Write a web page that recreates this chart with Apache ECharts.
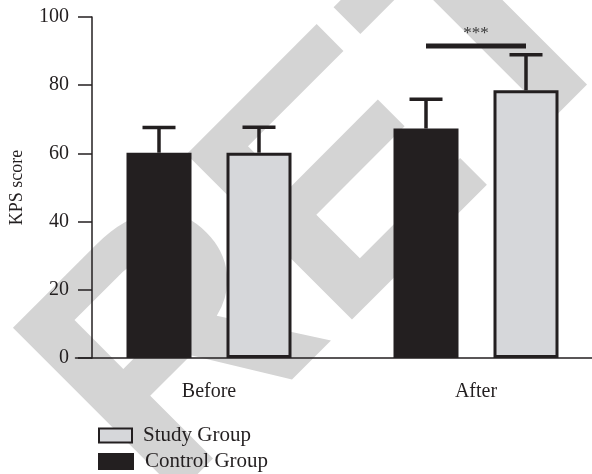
<!DOCTYPE html>
<html>
<head>
<meta charset="utf-8">
<script src="https://cdn.jsdelivr.net/npm/echarts@6/dist/echarts.min.js"></script>
<style>
  html, body { margin: 0; padding: 0; background: #ffffff; overflow: hidden; }
  /* the canvas runs past the right edge so the x axis continues off-page */
  #chart { width: 640px; height: 474px; }
</style>
</head>
<body>
<div id="chart"></div>
<script>
// KPS score by group, before and after treatment (mean ± SD)
const categories = ['Before', 'After'];
const controlMean = [60.2, 67.3];
const controlSD = [7.4, 8.6];
const studyMean = [60.2, 78.5];
const studySD = [7.5, 10.4];
const yTicks = [0, 20, 40, 60, 80, 100];
const sigCategory = 'After';
const sigLevel = [91.5];
const sigText = '***';
const watermarkText = 'RETRACTED';

const INK = '#231f20';
const SERIF = '"Liberation Serif", "DejaVu Serif", serif';
const BAR_W = 65;
const BAR_GAP = 35;                       // px between the two bars of a category
const HALF_STEP = (BAR_W + BAR_GAP) / 2;  // bar centre offset from category centre
const CAP_HALF = 16.5;

function errorBars(values, sds, offset) {
  return {
    type: 'custom',
    z: 3,
    silent: true,
    data: values.map((v, i) => [i, v, sds[i]]),
    renderItem: function (params, api) {
      const i = api.value(0);
      const mean = api.value(1);
      const sd = api.value(2);
      const base = api.coord([i, mean]);
      const top = api.coord([i, mean + sd]);
      const x = base[0] + offset;
      return {
        type: 'group',
        children: [
          { type: 'line', shape: { x1: x, y1: base[1], x2: x, y2: top[1] },
            style: { stroke: INK, lineWidth: 3.5 } },
          { type: 'line', shape: { x1: x - CAP_HALF, y1: top[1], x2: x + CAP_HALF, y2: top[1] },
            style: { stroke: INK, lineWidth: 3.5 } }
        ]
      };
    }
  };
}

const legendText = { fontFamily: SERIF, fontSize: 21, color: INK, padding: [0, 0, 0, 6] };

const chart = echarts.init(document.getElementById('chart'), null, { renderer: 'canvas' });

chart.setOption({
  animation: false,
  backgroundColor: '#ffffff',
  // large diagonal watermark running across the page behind the plot
  graphic: [{
    type: 'text',
    z: -10,
    silent: true,
    x: 96,
    y: 443,
    rotation: Math.PI / 4,
    style: {
      text: watermarkText,
      font: 'bold 340px "Liberation Sans", Arial, sans-serif',
      fill: '#d4d4d4',
      textAlign: 'left',
      textVerticalAlign: 'middle'
    }
  }],
  grid: { left: 75.5, top: 17, width: 534, height: 341, containLabel: false },
  legend: [
    {
      left: 93, top: 420,
      icon: 'rect',
      itemWidth: 33, itemHeight: 14,
      data: ['Study Group'],
      textStyle: legendText,
      selectedMode: false
    },
    {
      left: 93, top: 446,
      icon: 'rect',
      itemWidth: 36, itemHeight: 17,
      data: ['Control Group'],
      textStyle: legendText,
      selectedMode: false
    }
  ],
  xAxis: {
    type: 'category',
    data: categories,
    axisLine: { lineStyle: { color: INK, width: 1.5 } },
    axisTick: { alignWithLabel: true, length: 14, lineStyle: { color: INK, width: 1.5 } },
    axisLabel: { fontFamily: SERIF, fontSize: 20, color: INK, margin: 24 }
  },
  yAxis: {
    type: 'value',
    offset: -16.5,
    min: yTicks[0],
    max: yTicks[yTicks.length - 1],
    interval: yTicks[1] - yTicks[0],
    name: 'KPS score',
    nameLocation: 'middle',
    nameRotate: 90,
    nameGap: 66,
    nameTextStyle: { fontFamily: SERIF, fontSize: 18, color: INK },
    axisLine: { show: true, lineStyle: { color: INK, width: 1.5 } },
    axisTick: { show: true, length: 14, lineStyle: { color: INK, width: 1.5 } },
    axisLabel: { fontFamily: SERIF, fontSize: 20, color: INK, margin: 23 },
    splitLine: { show: false }
  },
  series: [
    {
      name: 'Control Group',
      type: 'bar',
      data: controlMean,
      barWidth: BAR_W,
      barGap: (BAR_GAP / BAR_W * 100) + '%',
      itemStyle: { color: INK }
    },
    {
      name: 'Study Group',
      type: 'bar',
      data: studyMean,
      barWidth: BAR_W,
      itemStyle: { color: '#d6d7da', borderColor: INK, borderWidth: 3 }
    },
    errorBars(controlMean, controlSD, -HALF_STEP),
    errorBars(studyMean, studySD, HALF_STEP),
    {
      type: 'custom',
      z: 3,
      silent: true,
      data: sigLevel.map(v => [categories.indexOf(sigCategory), v]),
      renderItem: function (params, api) {
        const p = api.coord([api.value(0), api.value(1)]);
        return {
          type: 'group',
          children: [
            { type: 'line', shape: { x1: p[0] - HALF_STEP, y1: p[1], x2: p[0] + HALF_STEP, y2: p[1] },
              style: { stroke: INK, lineWidth: 5 } },
            { type: 'text', x: p[0], y: p[1] - 4,
              style: { text: sigText, font: '17px ' + SERIF, fill: '#3a3a3a',
                       textAlign: 'center', textVerticalAlign: 'bottom' } }
          ]
        };
      }
    }
  ]
});
</script>
</body>
</html>
